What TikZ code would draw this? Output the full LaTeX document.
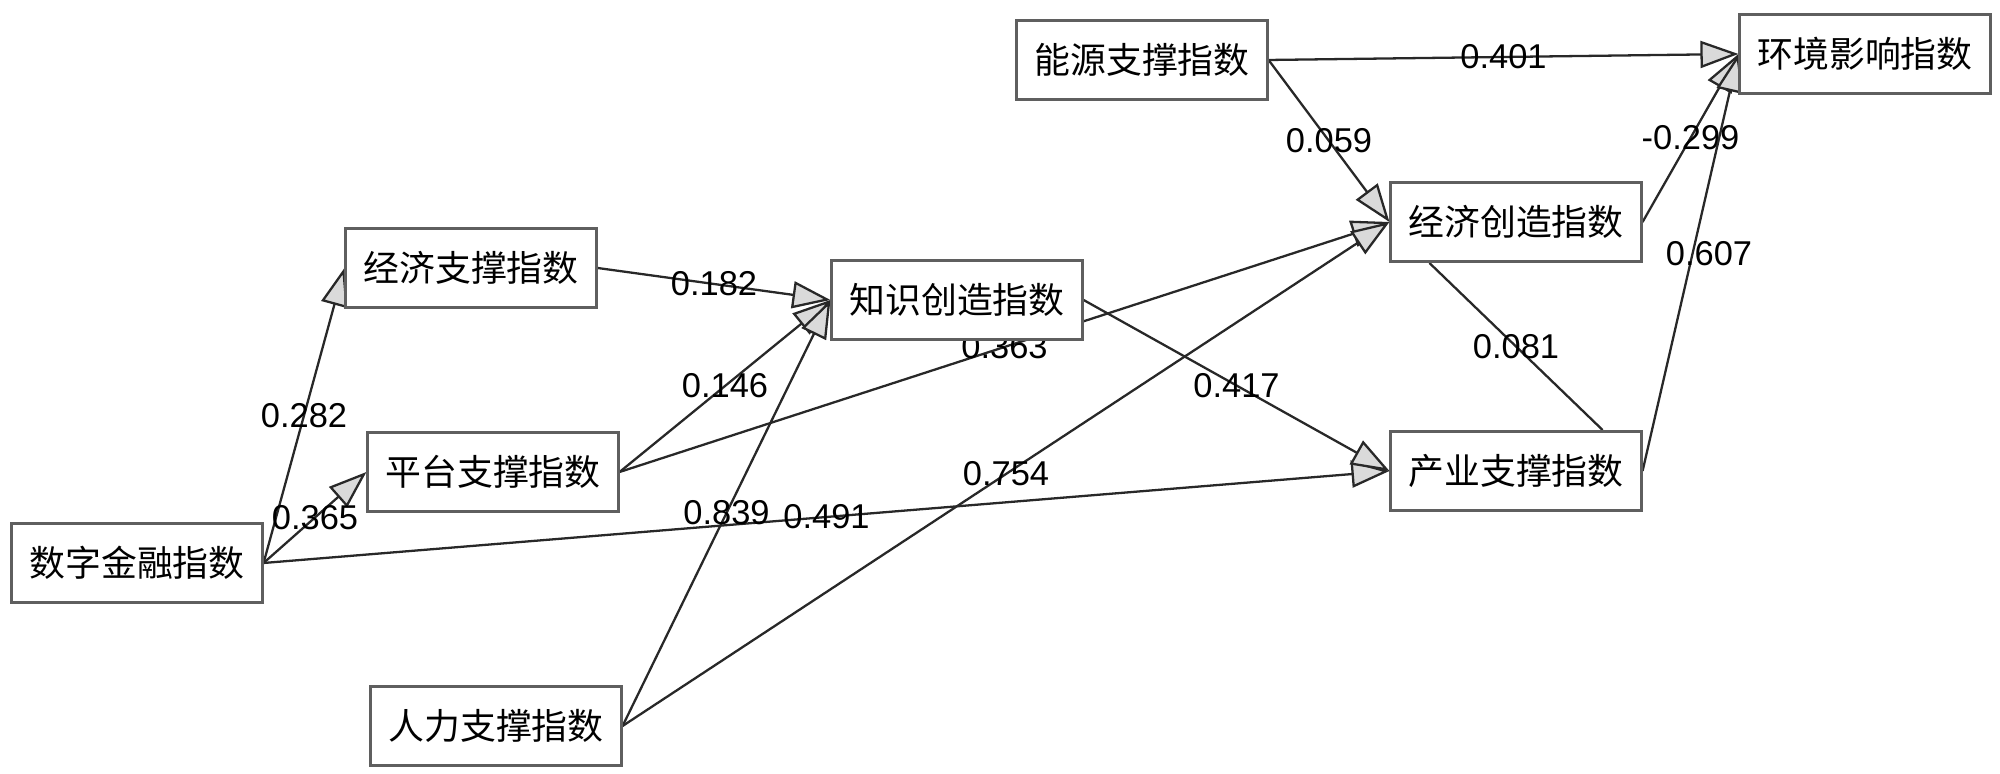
\documentclass[tikz,border=0pt]{standalone}
\usepackage{fontspec}
\setmainfont{Liberation Sans}
\newfontfamily\cjk{Noto Sans CJK SC}
\usetikzlibrary{arrows.meta,backgrounds}
\definecolor{boxline}{RGB}{95,95,95}
\definecolor{pathline}{RGB}{40,40,40}
\definecolor{headfill}{RGB}{218,218,218}

\begin{document}
\begin{tikzpicture}[x=0.01cm,y=-0.01cm,
	index/.style={draw=boxline,line width=0.85pt,fill=white,minimum width=2.5cm,minimum height=0.79cm,inner sep=0pt,font=\cjk\fontsize{10.2}{12}\selectfont},
	coef/.style={text=black,font=\fontsize{9.8}{11}\selectfont,inner sep=0pt},
	lujing/.style={color=pathline,line width=0.65pt}]
	\useasboundingbox (0,0) rectangle (2000,774);
	\node[index] (szjr) at (137,563) {数字金融指数};
	\node[index] (jjzc) at (471,268) {经济支撑指数};
	\node[index] (ptzc) at (493,472) {平台支撑指数};
	\node[index] (rlzc) at (496,726) {人力支撑指数};
	\node[index] (zscz) at (957,300) {知识创造指数};
	\node[index] (nyzc) at (1142,60) {能源支撑指数};
	\node[index] (jjcz) at (1516,222) {经济创造指数};
	\node[index] (cyzc) at (1516,471) {产业支撑指数};
	\node[index] (hjyx) at (1865,54) {环境影响指数};
	
	\begin{scope}[on background layer]
	\path[lujing,-{Triangle[length=0.38cm,width=0.27cm,fill=headfill]}]
	(szjr.east) edge node[coef] {0.282} (jjzc.west)
	(szjr.east) edge node[coef] {0.365} (ptzc.west)
	(szjr.east) edge node[coef] {0.491} (cyzc.west)
	(jjzc.east) edge node[coef] {0.182} (zscz.west)
	(ptzc.east) edge node[coef] {0.146} (zscz.west)
	(ptzc.east) edge node[coef] {0.363} (jjcz.west)
	(rlzc.east) edge node[coef] {0.839} (zscz.west)
	(rlzc.east) edge node[coef] {0.754} (jjcz.west)
	(zscz.east) edge node[coef] {0.417} (cyzc.west)
	(nyzc.east) edge node[coef] {0.401} (hjyx.west)
	(nyzc.east) edge node[coef] {0.059} (jjcz.west)
	(jjcz.east) edge node[coef] {-0.299} (hjyx.west)
	(cyzc.east) edge (hjyx.west);
	\draw[lujing] ([xshift=0.4cm]jjcz.south west) -- node[coef] {0.081} ([xshift=-0.4cm]cyzc.north east);
	\end{scope}
	\node[coef] (b607) at (1709,254) {0.607};
	
\end{tikzpicture}
\end{document}
